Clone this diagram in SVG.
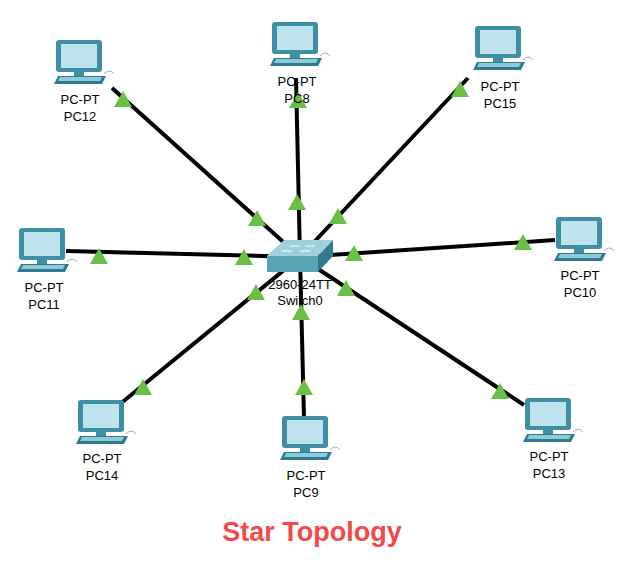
<svg xmlns="http://www.w3.org/2000/svg" width="626" height="563" viewBox="0 0 626 563">
<style>
.l{stroke:#000;stroke-width:4}
.t{fill:#6abf45}
.lb{font-family:"Liberation Sans",Arial,sans-serif;font-size:13px;text-anchor:middle;fill:#000}
</style>
<defs>
<g id="pc">
<rect x="0" y="0" width="46" height="32" rx="3" fill="#3f8fa4"/>
<rect x="5" y="4" width="36" height="24" fill="#bfe3ec"/>
<rect x="18" y="32" width="10" height="4" fill="#3f8fa4"/>
<path d="M2 36 H50 L46 44 H-2 Z" fill="#2f7a8f"/>
<path d="M4 37 H46 L44 41 H2 Z" fill="#8ccad8"/>
<path d="M48 34 q6 -6 10 0" stroke="#9ab" fill="none"/>
</g>
<polygon id="tr" points="0,-9 9,7 -9,7" class="t"/>
</defs>
<rect width="626" height="563" fill="#fff"/>
<g id="connectors">
<line class="l" x1="300" y1="257" x2="112" y2="88"/>
<line class="l" x1="300" y1="257" x2="296" y2="78"/>
<line class="l" x1="300" y1="257" x2="468" y2="78"/>
<line class="l" x1="300" y1="257" x2="66" y2="251"/>
<line class="l" x1="300" y1="257" x2="555" y2="240"/>
<line class="l" x1="300" y1="257" x2="120" y2="404"/>
<line class="l" x1="300" y1="257" x2="304" y2="418"/>
<line class="l" x1="300" y1="257" x2="524" y2="405"/>
<use href="#tr" x="123" y="100"/><use href="#tr" x="257" y="219"/>
<use href="#tr" x="298" y="101"/><use href="#tr" x="297" y="203"/>
<use href="#tr" x="460" y="90"/><use href="#tr" x="338" y="217"/>
<use href="#tr" x="99" y="257"/><use href="#tr" x="244" y="258"/>
<use href="#tr" x="523" y="243"/><use href="#tr" x="354" y="254"/>
<use href="#tr" x="143" y="388"/><use href="#tr" x="256" y="293"/>
<use href="#tr" x="304" y="388"/><use href="#tr" x="301" y="313"/>
<use href="#tr" x="500" y="392"/><use href="#tr" x="346" y="289"/>
</g>
<g id="switch0">
<path d="M267 256 L284 240 H333 L318 256 Z" fill="#9fd0dc"/>
<path d="M267 256 H318 V272 H267 Z" fill="#5aa4b8"/>
<path d="M318 256 L333 240 V256 L318 272 Z" fill="#2f7a8f"/>
<path d="M290 246 h10 M305 246 h10 M282 251 h10 M300 251 h10" stroke="#fff" stroke-width="1.2"/>
<text class="lb" x="300" y="289">2960-24TT</text>
<text class="lb" x="300" y="305">Switch0</text>
</g>
<g id="pc12"><use href="#pc" x="56" y="40"/><text class="lb" x="80" y="104">PC-PT</text><text class="lb" x="80" y="121">PC12</text></g>
<g id="pc8"><use href="#pc" x="272" y="22"/><text class="lb" x="297" y="86">PC-PT</text><text class="lb" x="297" y="103">PC8</text></g>
<g id="pc15"><use href="#pc" x="475" y="26"/><text class="lb" x="500" y="91">PC-PT</text><text class="lb" x="500" y="108">PC15</text></g>
<g id="pc11"><use href="#pc" x="19" y="228"/><text class="lb" x="44" y="292">PC-PT</text><text class="lb" x="44" y="309">PC11</text></g>
<g id="pc10"><use href="#pc" x="556" y="217"/><text class="lb" x="580" y="280">PC-PT</text><text class="lb" x="580" y="297">PC10</text></g>
<g id="pc14"><use href="#pc" x="78" y="400"/><text class="lb" x="102" y="463">PC-PT</text><text class="lb" x="102" y="480">PC14</text></g>
<g id="pc9"><use href="#pc" x="282" y="416"/><text class="lb" x="306" y="480">PC-PT</text><text class="lb" x="306" y="497">PC9</text></g>
<g id="pc13"><use href="#pc" x="525" y="398"/><text class="lb" x="549" y="461">PC-PT</text><text class="lb" x="549" y="478">PC13</text></g>
<text x="312" y="541" font-family="Liberation Sans,Arial,sans-serif" font-weight="bold" font-size="27" fill="#f24a4a" text-anchor="middle">Star Topology</text>
</svg>
